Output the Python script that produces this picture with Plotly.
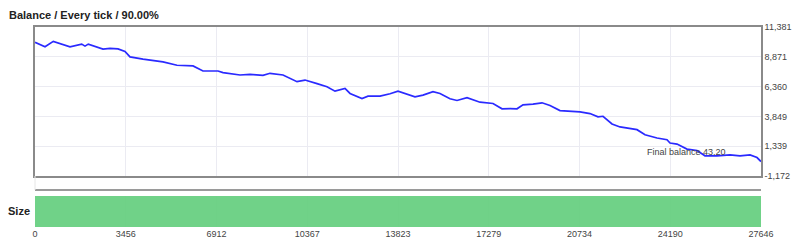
import plotly.graph_objects as go

# Balance curve (tick index, balance)
tick = [0, 381, 697, 1078, 1333, 1778, 1904, 2030, 2589, 2856, 3161, 3427, 3618, 4113,
        4646, 4874, 5407, 6017, 6397, 6969, 7159, 7806, 8187, 8682, 8949, 9444, 9977,
        10282, 10739, 11119, 11424, 11805, 11996, 12452, 12681, 13138, 13519, 13823,
        14470, 14775, 15156, 15422, 15803, 16070, 16451, 16946, 17441, 17784, 18088,
        18355, 18583, 18964, 19307, 19611, 19992, 20373, 20754, 21134, 21439, 21630,
        21972, 22277, 22658, 22924, 23229, 23686, 24067, 24181, 24448, 24828, 25209,
        25514, 25971, 26466, 26847, 27228, 27494, 27646]
balance = [10084, 9710, 10168, 9855, 9710, 9939, 9770, 9939, 9515, 9575, 9541, 9320, 8862, 8667,
           8523, 8438, 8159, 8099, 7675, 7675, 7540, 7336, 7395, 7311, 7480, 7336, 6776,
           6912, 6607, 6352, 5979, 6208, 5784, 5360, 5555, 5555, 5759, 5979,
           5504, 5640, 5928, 5784, 5335, 5191, 5420, 5046, 4936, 4487, 4512,
           4487, 4826, 4877, 4996, 4767, 4343, 4317, 4232, 4088, 3808, 3859,
           3215, 2960, 2791, 2731, 2307, 2028, 1883, 1604, 1519, 1095, 976,
           527, 527, 611, 527, 611, 382, 43.2]

size_x = [0, 27646]
size_y = [1, 1]

x_ticks = [0, 3456, 6912, 10367, 13823, 17279, 20734, 24190, 27646]
y_ticks = [11381, 8871, 6360, 3849, 1339, -1172]
y_tick_text = ["11,381", "8,871", "6,360", "3,849", "1,339", "-1,172"]

title_text = "Balance / Every tick / 90.00%"
size_label = "Size"
final_label = "Final balance 43.20"

font_family = "Liberation Sans, Arial, sans-serif"
grid_color = "#ebebf2"
border_color = "#8a8a8a"

fig = go.Figure()
fig.add_trace(go.Scatter(x=tick, y=balance, mode="lines",
                         line=dict(color="#2a2aff", width=1.7),
                         xaxis="x", yaxis="y", hoverinfo="skip", showlegend=False))
fig.add_trace(go.Scatter(x=size_x, y=size_y, mode="lines", fill="tozeroy",
                         fillcolor="rgba(104,208,130,0.95)", line=dict(width=0),
                         xaxis="x2", yaxis="y2", hoverinfo="skip", showlegend=False))

fig.update_layout(
    width=800, height=250,
    margin=dict(l=35, r=39, t=27, b=23, autoexpand=False),
    paper_bgcolor="white", plot_bgcolor="white",
    font=dict(family=font_family, size=9, color="#333333"),
    xaxis=dict(domain=[0, 1], range=[0, 27646], anchor="y", tickvals=x_ticks,
               showticklabels=False, showgrid=True, gridcolor=grid_color, gridwidth=1,
               zeroline=False, showline=True, linecolor=border_color, linewidth=1.5,
               mirror=True, ticks="", automargin=False),
    yaxis=dict(domain=[0.255, 1], range=[-1172, 11381], side="right", anchor="x",
               tickvals=y_ticks, ticktext=y_tick_text, showgrid=True, gridcolor=grid_color,
               zeroline=False, showline=True, linecolor=border_color, linewidth=1.5,
               mirror=True, ticks="", tickfont=dict(size=9, color="#444444"),
               automargin=False),
    xaxis2=dict(domain=[0, 1], range=[0, 27646], anchor="y2", tickvals=x_ticks,
                ticktext=[str(v) for v in x_ticks], showgrid=True, gridcolor="#dcdcdc",
                zeroline=False, showline=False, ticks="", automargin=False,
                tickfont=dict(size=9, color="#444444")),
    yaxis2=dict(domain=[0, 0.155], range=[0, 1], anchor="x2", showticklabels=False,
                showgrid=False, zeroline=False, showline=False, automargin=False),
    shapes=[
        dict(type="line", xref="paper", yref="paper", x0=0, x1=1, y0=0.185, y1=0.185,
             line=dict(color="#9a9a9a", width=2)),
        dict(type="line", xref="paper", yref="paper", x0=0, x1=0, y0=0.185, y1=0.255,
             line=dict(color="#e6e6e6", width=1)),
    ],
    annotations=[
        dict(text="<b>" + title_text + "</b>", xref="paper", yref="paper",
             x=-0.039, y=1.06, xanchor="left", yanchor="middle", showarrow=False,
             font=dict(size=11, color="#222222", family=font_family)),
        dict(text="<b>" + size_label + "</b>", xref="paper", yref="paper",
             x=-0.004, y=0.08, xanchor="right", yanchor="middle", showarrow=False,
             font=dict(size=11, color="#222222", family=font_family)),
        dict(text=final_label, x=26390, y=1339, xref="x", yref="y",
             xanchor="right", yanchor="top", showarrow=False, yshift=1,
             font=dict(size=9, color="#444444", family=font_family)),
    ],
)

fig.write_html("out.html")
